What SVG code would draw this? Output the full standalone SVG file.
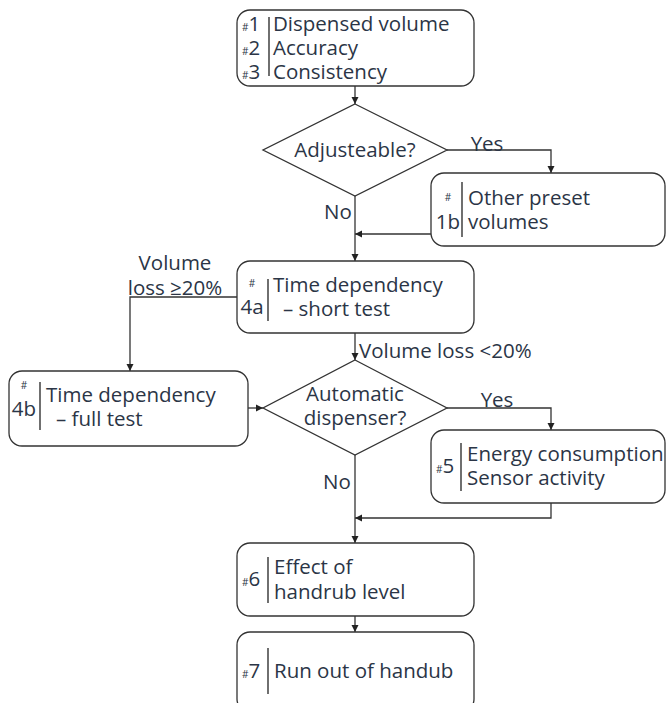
<svg xmlns="http://www.w3.org/2000/svg" width="666" height="703" viewBox="0 0 666 703">
<style>
.box{fill:#fff;stroke:#333;stroke-width:1.3}
.ln{fill:none;stroke:#333;stroke-width:1.3}
.dv{stroke:#222;stroke-width:1.3}
text{font-family:"Open Sans","Noto Sans",sans-serif;fill:#2b3546;font-size:20.5px}
.h{font-size:10px}
.c{text-anchor:middle}
</style>
<defs>
<marker id="ah" markerWidth="8" markerHeight="8" refX="7" refY="4" orient="auto" markerUnits="userSpaceOnUse">
<path d="M0,0.5 L7,4 L0,7.5 Z" fill="#222"/>
</marker>
</defs>
<g id="connectors">
<path class="ln" d="M355,86 V104" marker-end="url(#ah)"/>
<path class="ln" d="M447,150 H551 V173" marker-end="url(#ah)"/>
<path class="ln" d="M431,234 H355" marker-end="url(#ah)"/>
<path class="ln" d="M355,196 V261" marker-end="url(#ah)"/>
<path class="ln" d="M237,297 H130 V371" marker-end="url(#ah)"/>
<path class="ln" d="M355,333 V360" marker-end="url(#ah)"/>
<path class="ln" d="M248,408 H263" marker-end="url(#ah)"/>
<path class="ln" d="M447,408 H551 V430" marker-end="url(#ah)"/>
<path class="ln" d="M551,503 V518 H355" marker-end="url(#ah)"/>
<path class="ln" d="M355,455 V543" marker-end="url(#ah)"/>
<path class="ln" d="M355,616 V632" marker-end="url(#ah)"/>
<text x="487" y="151" class="c">Yes</text>
<text x="338" y="219" class="c">No</text>
<text x="175" y="270" class="c">Volume</text>
<text x="175" y="295" class="c">loss ≥20%</text>
<text x="359" y="358">Volume loss &lt;20%</text>
<text x="497" y="407" class="c">Yes</text>
<text x="337" y="489" class="c">No</text>
</g>
<g id="n1">
<rect class="box" x="237" y="10" width="237" height="76" rx="13"/>
<line class="dv" x1="269" y1="17" x2="269" y2="76"/>
<text x="242" y="31"><tspan class="h">#</tspan>1</text>
<text x="242" y="55"><tspan class="h">#</tspan>2</text>
<text x="242" y="79"><tspan class="h">#</tspan>3</text>
<text x="273" y="31">Dispensed volume</text>
<text x="273" y="55">Accuracy</text>
<text x="273" y="79">Consistency</text>
</g>
<g id="d1">
<polygon class="box" points="355,104 447,150 355,196 263,150"/>
<text x="355" y="157" class="c">Adjusteable?</text>
</g>
<g id="n1b">
<rect class="box" x="431" y="173" width="234" height="73" rx="13"/>
<line class="dv" x1="462" y1="182" x2="462" y2="237"/>
<text x="448" y="201" class="c h">#</text>
<text x="448" y="229" class="c">1b</text>
<text x="468" y="205">Other preset</text>
<text x="468" y="229">volumes</text>
</g>
<g id="n4a">
<rect class="box" x="237" y="261" width="237" height="72" rx="13"/>
<line class="dv" x1="268" y1="279" x2="268" y2="321"/>
<text x="252" y="287" class="c h">#</text>
<text x="252" y="314" class="c">4a</text>
<text x="273" y="292">Time dependency</text>
<text x="283" y="316">– short test</text>
</g>
<g id="n4b">
<rect class="box" x="9" y="371" width="239" height="75" rx="13"/>
<line class="dv" x1="40" y1="382" x2="40" y2="430"/>
<text x="24" y="389" class="c h">#</text>
<text x="24" y="416" class="c">4b</text>
<text x="46" y="402">Time dependency</text>
<text x="56" y="426">– full test</text>
</g>
<g id="d2">
<polygon class="box" points="355,360 447,408 355,455 263,408"/>
<text x="355" y="401" class="c">Automatic</text>
<text x="355" y="425" class="c">dispenser?</text>
</g>
<g id="n5">
<rect class="box" x="431" y="430" width="234" height="73" rx="13"/>
<line class="dv" x1="461" y1="443" x2="461" y2="491"/>
<text x="436" y="473"><tspan class="h">#</tspan>5</text>
<text x="467" y="461">Energy consumption</text>
<text x="467" y="485">Sensor activity</text>
</g>
<g id="n6">
<rect class="box" x="237" y="543" width="237" height="73" rx="13"/>
<line class="dv" x1="268" y1="557" x2="268" y2="603"/>
<text x="242" y="586"><tspan class="h">#</tspan>6</text>
<text x="274" y="574">Effect of</text>
<text x="274" y="599">handrub level</text>
</g>
<g id="n7">
<rect class="box" x="237" y="632" width="237" height="80" rx="13"/>
<line class="dv" x1="268" y1="648" x2="268" y2="694"/>
<text x="242" y="678"><tspan class="h">#</tspan>7</text>
<text x="274" y="678">Run out of handub</text>
</g>
</svg>
